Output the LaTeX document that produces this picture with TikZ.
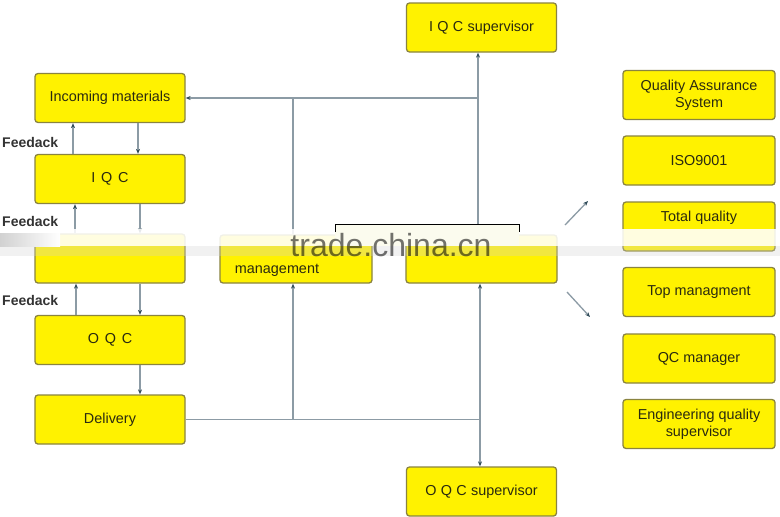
\documentclass[tikz,border=0pt]{standalone}
\usepackage{fontspec}
\setmainfont{Liberation Sans}
\usetikzlibrary{arrows.meta}
\definecolor{boxyellow}{HTML}{FFF200}
\definecolor{boxborder}{HTML}{8A8440}
\definecolor{linecol}{HTML}{8C9BA5}
\definecolor{tipcol}{HTML}{2F4A58}
\definecolor{fbtext}{HTML}{333333}
\definecolor{txt}{HTML}{2A2A10}
\definecolor{wmcream}{HTML}{FBFBEE}
\tikzset{
  qbox/.style={draw=boxborder, fill=boxyellow, rounded corners=3pt, line width=1.3pt,
    minimum width=150pt, minimum height=49pt, inner sep=0pt, align=center,
    text=txt, font=\fontsize{14.4}{17}\selectfont},
  conn/.style={draw=linecol, line width=1.5pt, arrows={-}},
  tip/.style={-{Stealth[length=5pt,width=4pt,color=tipcol]}},
  fb/.style={font=\bfseries\fontsize{14}{15}\selectfont, text=fbtext, anchor=west, inner sep=0pt}
}
\begin{document}
\begin{tikzpicture}[x=1pt,y=-1pt]
\useasboundingbox (0,0) rectangle (780,517);
\fill[white] (0,0) rectangle (780,517);
% left column
\node[qbox] (inc)  at (110,98)  {Incoming materials};
\node[qbox] (iqc)  at (110,179) {I\hspace{0.4em}Q\hspace{0.4em}C};
\node[qbox] (prod) at (110,258.5) {};
\node[qbox] (oqc)  at (110,340) {O\hspace{0.4em}Q\hspace{0.4em}C};
\node[qbox] (del)  at (110,419.5) {Delivery};
% middle
\node[qbox, minimum width=152pt, minimum height=48pt] (mgmt) at (296,259) {};
\node[text=txt, font=\fontsize{14.4}{17}\selectfont, inner sep=0pt] (mgmtt) at (277,270) {management};
\node[qbox, minimum width=151pt, minimum height=48pt] (ctr) at (481.5,259) {};
\node[qbox] (iqcs) at (481.5,27.5) {I\hspace{0.3em}Q\hspace{0.3em}C\hspace{0.3em}supervisor};
\node[qbox] (ocs)  at (481.5,491.5) {O\hspace{0.3em}Q\hspace{0.3em}C\hspace{0.3em}supervisor};
% right column
\node[qbox, minimum width=152pt] (qas) at (699,95) {Quality Assurance\\System};
\node[qbox, minimum width=152pt] (iso) at (699,160.5) {ISO9001};
\node[qbox, minimum width=152pt, text depth=20pt] (tq) at (699,226.5) {Total quality};
\node[qbox, minimum width=152pt] (top) at (699,292) {Top managment};
\node[qbox, minimum width=152pt] (qcm) at (699,358.5) {QC manager};
\node[qbox, minimum width=152pt] (eqs) at (699,424) {Engineering quality\\supervisor};
% feedback labels
\node[fb] (fb1) at (2,142) {Feedack};
\node[fb] (fb2) at (2,221) {Feedack};
\node[fb] (fb3) at (2,300) {Feedack};
% left column connectors
\draw[conn,tip] (iqc.north -| 73,0) -- (inc.south -| 73,0);
\draw[conn,tip] (inc.south -| 138,0) -- (iqc.north -| 138,0);
\draw[conn,tip] (prod.north -| 75,0) -- (iqc.south -| 75,0);
\draw[conn,tip] (iqc.south -| 140,0) -- (prod.north -| 140,0);
\draw[conn,tip] (oqc.north -| 76,0) -- (prod.south -| 76,0);
\draw[conn,tip] (prod.south -| 140,0) -- (oqc.north -| 140,0);
\draw[conn,tip] (oqc.south -| 140,0) -- (del.north -| 140,0);
% central connectors
\draw[conn,tip] (ctr.north -| 478,0) -- (iqcs.south -| 478,0);
\draw[conn,tip] (inc.east -| 478,0) -- (inc.east);
\draw[conn] (mgmt.north -| 293,0) -- (inc.east -| 293,0);
\draw[conn,tip] (del.east -| 293,0) -- (mgmt.south -| 293,0);
\draw[conn] (del.east) -- (del.east -| 480,0);
\draw[conn,{Stealth[length=5pt,width=4pt,color=tipcol]}-{Stealth[length=5pt,width=4pt,color=tipcol]}] (ctr.south -| 480,0) -- (ocs.north -| 480,0);
% diagonal arrows
\coordinate (d1a) at (565,225);
\coordinate (d1b) at (588,201);
\coordinate (d2a) at (567,292);
\coordinate (d2b) at (590,317);
\draw[conn,line width=1.3pt,tip] (d1a) -- (d1b);
\draw[conn,line width=1.3pt,tip] (d2a) -- (d2b);
% watermark band
\fill[white, opacity=0.88] (0,229) rectangle (780,246);
\fill[black, opacity=0.07] (0,246) rectangle (780,256);
\fill[white, opacity=0.25] (0,246) rectangle (780,256);
\fill[left color=black!18, right color=white] (0,233) rectangle (60,246);
\fill[wmcream] (335,224) rectangle (519,246);
\draw[black, line width=1pt] (335,232) -- (335,224) -- (519,224) -- (519,232);
\node[text=black, opacity=0.55, font=\fontsize{32}{34}\selectfont, inner sep=0pt] (wm) at (391,245) {trade.china.cn};
\end{tikzpicture}
\end{document}
